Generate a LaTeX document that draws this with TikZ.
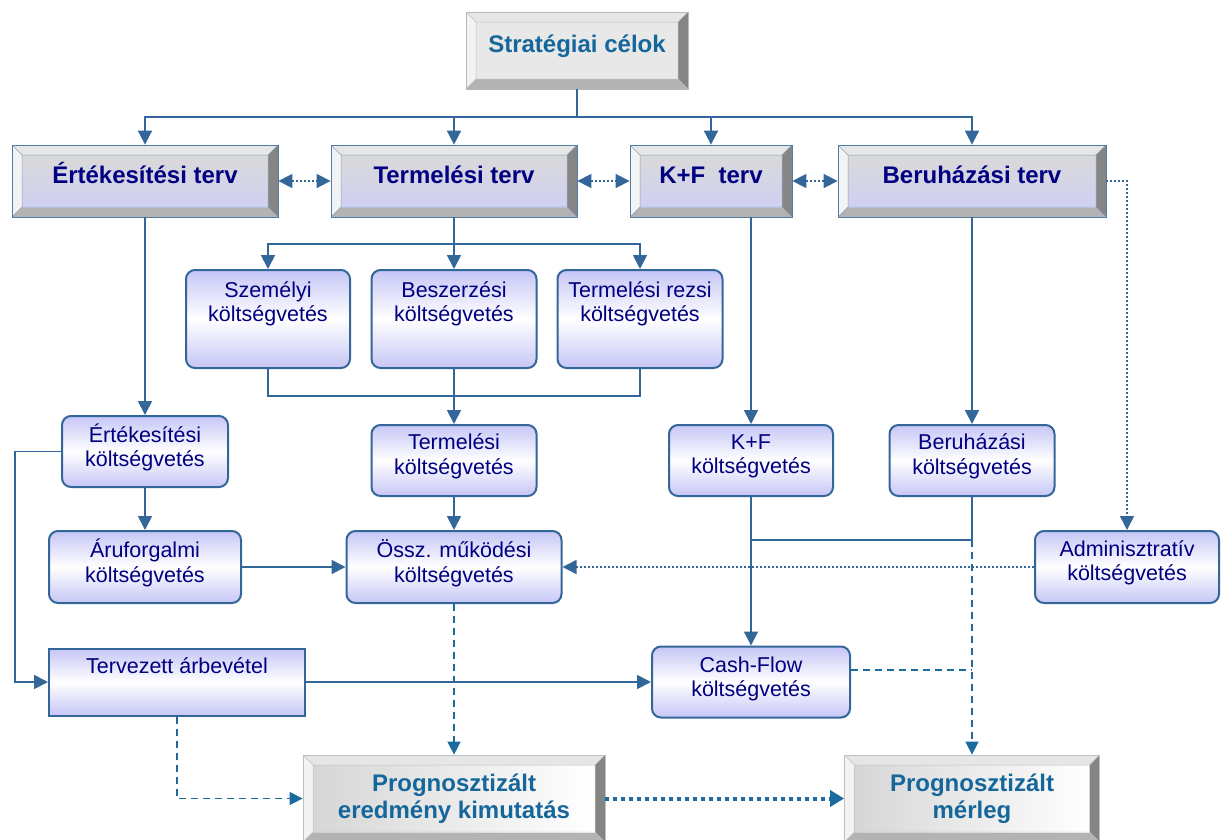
\documentclass[tikz,border=0pt]{standalone}
\usepackage{fontspec}
\setmainfont{Liberation Sans}
\usetikzlibrary{positioning,arrows.meta,calc}
\definecolor{lineBlue}{HTML}{336699}
\definecolor{dashBlue}{HTML}{1B6B9E}
\definecolor{textNavy}{HTML}{000080}
\definecolor{goalBlue}{HTML}{15679B}
\definecolor{boxLav}{HTML}{C6C6F6}
\definecolor{faceLav}{HTML}{D0D0F2}
\definecolor{faceGray}{HTML}{D9D9D9}
\definecolor{bevLight}{HTML}{E6E6E6}
\definecolor{bevDark}{HTML}{858585}
\definecolor{bevMid}{HTML}{B3B3B3}

% raised text that keeps its box
\newcommand{\hi}[2]{\raisebox{#1}[\height][\depth]{#2}}
\newcommand{\twolines}[3]{\hi{#1}{#2}\\\hi{#1}{#3}}

\tikzset{
  bevelface/.style={fill=faceGray},
  bevelline/.style={draw=gray!50, line width=0.5pt},
  bevelbox/.style={rectangle, inner sep=0pt, align=center, line width=0.8pt,
    path picture={
      \coordinate (bNW) at (path picture bounding box.north west);
      \coordinate (bNE) at (path picture bounding box.north east);
      \coordinate (bSW) at (path picture bounding box.south west);
      \coordinate (bSE) at (path picture bounding box.south east);
      \coordinate (iNW) at ($(bNW)+(10,10)$);
      \coordinate (iNE) at ($(bNE)+(-10,10)$);
      \coordinate (iSW) at ($(bSW)+(10,-10)$);
      \coordinate (iSE) at ($(bSE)+(-10,-10)$);
      \fill[bevLight] (bNW) -- (bNE) -- (iNE) -- (iNW) -- cycle;
      \fill[bevLight!50!white] (bNW) -- (iNW) -- (iSW) -- (bSW) -- cycle;
      \fill[bevDark] (bNE) -- (bSE) -- (iSE) -- (iNE) -- cycle;
      \fill[bevMid] (bSW) -- (bSE) -- (iSE) -- (iSW) -- cycle;
      \path[bevelface] (iNW) rectangle (iSE);
      \draw[bevelline] (iNW) rectangle (iSE) (bNW) -- (iNW) (bNE) -- (iNE)
        (bSW) -- (iSW) (bSE) -- (iSE);
    }},
  goaltitle/.style={bevelbox, draw=gray!55, text=goalBlue,
    font=\bfseries\fontsize{24}{27}\selectfont, text height=17pt, text depth=13pt,
    bevelface/.style={fill=gray!18}},
  plantitle/.style={bevelbox, draw=lineBlue!85, text=textNavy,
    font=\bfseries\fontsize{24}{26}\selectfont, text height=17pt, text depth=13pt,
    bevelface/.style={top color=faceGray, bottom color=faceLav},
    bevelline/.style={draw=lineBlue!60, line width=0.5pt}},
  progtitle/.style={bevelbox, draw=gray!50, text=goalBlue,
    font=\bfseries\fontsize{24}{27}\selectfont,
    bevelface/.style={left color=gray!32, right color=white}},
  budget/.style={rectangle, rounded corners=9pt, draw=lineBlue, line width=2pt,
    top color=boxLav, bottom color=boxLav, middle color=white,
    text=textNavy, align=center, inner sep=2pt,
    font=\fontsize{21.5}{24.5}\selectfont},
  conn/.style={draw=lineBlue, line width=1.8pt},
  arr/.style={conn, -{Triangle[length=14pt,width=14pt]}},
  dotarr/.style={draw=lineBlue, line width=1.6pt, dash pattern=on 1.6pt off 2.4pt,
    {Triangle[length=14pt,width=14pt]}-{Triangle[length=14pt,width=14pt]}},
  dotone/.style={draw=lineBlue, line width=1.6pt, dash pattern=on 1.6pt off 2.4pt,
    -{Triangle[length=14pt,width=14pt]}},
  dashconn/.style={draw=dashBlue, line width=1.6pt, dash pattern=on 7pt off 5pt},
  dasharr/.style={dashconn, -{Triangle[length=13pt,width=13pt]}},
  thickdot/.style={draw=dashBlue, line width=4pt, dash pattern=on 4pt off 4pt,
    -{Triangle[length=14pt,width=16pt]}}
}

\begin{document}
\begin{tikzpicture}[x=1pt, y=-1pt]
  \useasboundingbox (0,0) rectangle (1221,839);
  \clip (0,0) rectangle (1221,839);

  % Goals
  \node[goaltitle, minimum width=222pt, minimum height=77pt] (strat) at (577,50.5) {Stratégiai célok};

  % Plans
  \node[plantitle, minimum width=266pt, minimum height=72pt] (ertterv) at (145,181) {Értékesítési terv};
  \node[plantitle, minimum width=246pt, minimum height=72pt] (termterv) at (454,181) {Termelési terv};
  \node[plantitle, minimum width=162pt, minimum height=72pt] (kfterv) at (711,181) {K+F\ \ terv};
  \node[plantitle, minimum width=268pt, minimum height=72pt] (beruhterv) at (972,181) {Beruházási terv};

  % Production budgets
  \node[budget, minimum width=164pt, minimum height=98pt] (szem) at (268,319) {\twolines{15pt}{Személyi}{költségvetés}};
  \node[budget, minimum width=165pt, minimum height=98pt] (besz) at (454,319) {\twolines{15pt}{Beszerzési}{költségvetés}};
  \node[budget, minimum width=165pt, minimum height=98pt] (rezsi) at (640,319) {\twolines{15pt}{Termelési rezsi}{költségvetés}};

  % Budgets
  \node[budget, minimum width=166pt, minimum height=71pt] (ertkolt) at (145,451.5) {\twolines{4pt}{Értékesítési}{költségvetés}};
  \node[budget, minimum width=165pt, minimum height=71pt] (termkolt) at (454,460.5) {\twolines{4pt}{Termelési}{költségvetés}};
  \node[budget, minimum width=164pt, minimum height=71pt] (kfkolt) at (751,460.5) {\twolines{4pt}{K+F}{költségvetés}};
  \node[budget, minimum width=165pt, minimum height=71pt] (beruhkolt) at (972,460.5) {\twolines{4pt}{Beruházási}{költségvetés}};
  \node[budget, minimum width=192pt, minimum height=72pt] (aru) at (145,567) {\twolines{4pt}{Áruforgalmi}{költségvetés}};
  \node[budget, minimum width=215pt, minimum height=72pt] (ossz) at (454,567) {\twolines{4pt}{Össz. működési}{költségvetés}};
  \node[budget, minimum width=184pt, minimum height=72pt] (admin) at (1127,567) {\twolines{4pt}{Adminisztratív}{költségvetés}};
  \node[budget, sharp corners, minimum width=256pt, minimum height=67pt] (terv) at (177,682) {\hi{16pt}{Tervezett árbevétel}};
  \node[budget, minimum width=198pt, minimum height=71pt] (cash) at (751,682) {\twolines{3pt}{Cash-Flow}{költségvetés}};

  % Forecasts
  \node[progtitle, minimum width=302pt, minimum height=87pt] (progeredm) at (454,798.5) {Prognosztizált\\eredmény kimutatás};
  \node[progtitle, minimum width=255pt, minimum height=87pt] (progmerleg) at (972,798.5) {Prognosztizált\\mérleg};

  % Bends
  \coordinate (top) at (577,117);
  \coordinate (tsplit) at (454,244);
  \coordinate (tjoin) at (454,396);
  \coordinate (bjoin) at (972,540);
  \coordinate (lrail) at (15,451.5);

  % Goals to plans
  \draw[conn] (strat.south) -- (top);
  \foreach \n in {ertterv,termterv,kfterv,beruhterv}
    \draw[arr] (top) -| (\n.north);
  \draw[dotarr] (ertterv.east) -- (termterv.west);
  \draw[dotarr] (termterv.east) -- (kfterv.west);
  \draw[dotarr] (kfterv.east) -- (beruhterv.west);
  \draw[dotone] (beruhterv.east) -| (admin.north);

  % Production
  \draw[conn] (termterv.south) -- (tsplit);
  \foreach \n in {szem,besz,rezsi}
    \draw[arr] (tsplit) -| (\n.north);
  \draw[conn] (szem.south) |- (tjoin) -| (rezsi.south);
  \draw[arr] (besz.south) -- (termkolt.north);

  % Sales
  \draw[arr] (ertterv.south) -- (ertkolt.north);
  \draw[arr] (ertkolt.south) -- (aru.north);
  \draw[arr] (aru.east) -- (ossz.west);
  \draw[arr] (termkolt.south) -- (ossz.north);
  \draw[arr] (ertkolt.west) -- (lrail) |- (terv.west);
  \draw[arr] (terv.east) -- (cash.west);

  % R&D, investment
  \draw[arr] (kfterv.south -| kfkolt.north) -- (kfkolt.north);
  \draw[arr] (beruhterv.south) -- (beruhkolt.north);
  \draw[arr] (kfkolt.south) -- (cash.north);
  \draw[conn] (beruhkolt.south) -- (bjoin) -- (bjoin -| kfkolt.south);
  \draw[dotone] (admin.west) -- (ossz.east);

  % Forecasts
  \draw[dasharr] (bjoin) -- (progmerleg.north);
  \draw[dashconn] ([yshift=12pt]cash.east) -- ([yshift=12pt]cash.east -| bjoin);
  \draw[dasharr] (ossz.south) -- (progeredm.north);
  \draw[dasharr] (terv.south) |- (progeredm.west);
  \draw[thickdot] (progeredm.east) -- (progmerleg.west);
\end{tikzpicture}
\end{document}
